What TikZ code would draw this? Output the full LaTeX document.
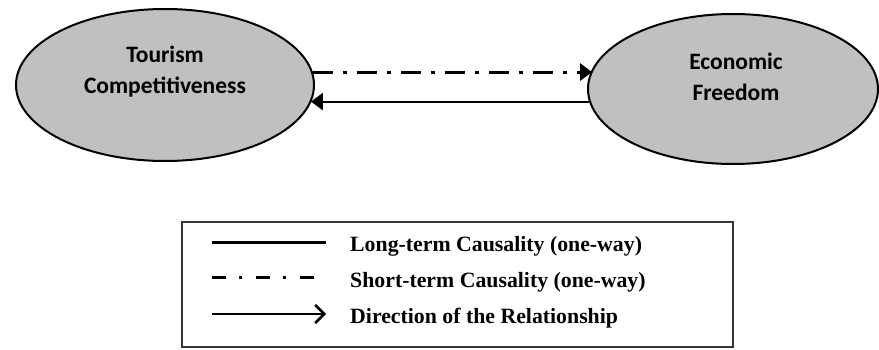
\documentclass[tikz,border=0pt]{standalone}
\usepackage{fontspec}
\setmainfont{Liberation Serif}
\newfontfamily\ovalfont{Carlito}
\usetikzlibrary{positioning}
\usetikzlibrary{shapes.geometric}
\usetikzlibrary{arrows.meta}
\definecolor{ovalgray}{RGB}{192,192,192}
\definecolor{boxgray}{RGB}{55,55,55}

\begin{document}
\begin{tikzpicture}[x=1pt, y=1pt,
		oval/.style={ellipse, draw=black, line width=2pt, fill=ovalgray, inner sep=0pt},
		ovaltext/.style={align=center, font=\ovalfont\bfseries\fontsize{23.5}{31}\selectfont},
		keytext/.style={anchor=base west, inner sep=0pt, font=\bfseries\fontsize{21.8}{24}\selectfont},
		dashdot/.style={line width=3pt, dash pattern=on 20pt off 10pt on 4pt off 10pt},
		keydash/.style={line width=3pt, dash pattern=on 14pt off 13pt on 3pt off 14pt},
		arrow/.style={-{Triangle[length=12pt, width=17pt]}}
	]
		\useasboundingbox (0,0) rectangle (879,349);

		% the two variables
		\node[oval, minimum width=298pt, minimum height=152pt] (tc) at (165,264) {};
		\node[oval, minimum width=290pt, minimum height=150pt] (ef) at (733,260) {};
		\node[ovaltext] (tclabel) at (165,277) {Tourism\\Competitiveness};
		\node[ovaltext] (eflabel) at (736,272) {Economic\\Freedom};

		\draw[dashdot, arrow] (tc.5.8) -- (tc.5.8 -| ef.172.3);
		\draw[line width=2pt, arrow] (ef.185.2) -- (ef.185.2 -| tc.353.4);

		% legend
		\node[draw=boxgray, line width=2pt, minimum width=551pt, minimum height=125pt, inner sep=0pt] (legend) at (457.5,64.5) {};
		\coordinate (k1a) at (212,107);
		\coordinate (k1b) at (326,107);
		\coordinate (k2a) at (212,72);
		\coordinate (k2b) at (326,72);
		\coordinate (k3a) at (212,35);
		\coordinate (k3b) at (326,35);
		\draw[line width=3pt] (k1a) -- (k1b);
		\draw[keydash] (k2a) -- (k2b);
		\draw[line width=2.5pt, -{Straight Barb[length=9pt, width=18pt]}] (k3a) -- (k3b);
		\node[keytext] (long) at (350,98) {Long-term Causality (one-way)};
		\node[keytext] (short) at (350,62) {Short-term Causality (one-way)};
		\node[keytext] (dir) at (350,26) {Direction of the Relationship};
	\end{tikzpicture}
\end{document}
